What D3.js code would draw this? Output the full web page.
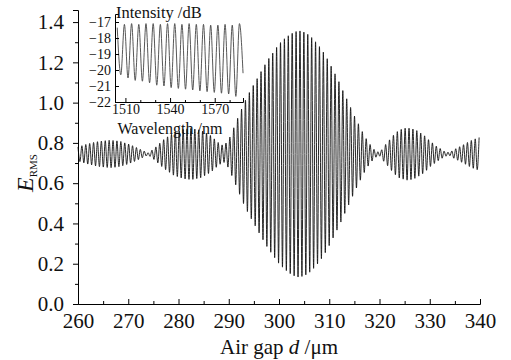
<!DOCTYPE html>
<html>
<head>
<meta charset="utf-8">
<script src="https://cdn.jsdelivr.net/npm/d3@7"></script>
<style>
  body { margin: 0; background: #fff; }
  svg { display: block; font-family: "Liberation Serif", "Times New Roman", serif; }
  svg text { font-family: "Liberation Serif", "Times New Roman", serif; }
</style>
</head>
<body>
<svg id="chart" width="511" height="360"></svg>
<script>
// main trace: E_RMS read at each extremum, extrema spaced half a fringe apart
const gapStart = 260;
const halfFringe = 0.3875;
const peaks = [
  0.780, 0.786, 0.792, 0.797, 0.802, 0.806, 0.809, 0.811, 0.813, 0.812,
  0.810, 0.807, 0.800, 0.794, 0.786, 0.777, 0.768, 0.759, 0.751, 0.764,
  0.780, 0.798, 0.816, 0.830, 0.843, 0.853, 0.860, 0.867, 0.870, 0.872,
  0.869, 0.865, 0.859, 0.848, 0.837, 0.820, 0.802, 0.790, 0.799, 0.829,
  0.875, 0.922, 0.968, 1.012, 1.050, 1.085, 1.119, 1.154, 1.188, 1.219,
  1.246, 1.274, 1.298, 1.317, 1.332, 1.344, 1.353, 1.356, 1.350, 1.339,
  1.323, 1.302, 1.278, 1.251, 1.218, 1.181, 1.143, 1.104, 1.060, 1.019,
  0.976, 0.933, 0.895, 0.856, 0.821, 0.792, 0.768, 0.756, 0.766, 0.792,
  0.815, 0.838, 0.856, 0.867, 0.873, 0.873, 0.869, 0.861, 0.849, 0.835,
  0.816, 0.800, 0.784, 0.772, 0.759, 0.754, 0.760, 0.771, 0.781, 0.791,
  0.802, 0.812, 0.820, 0.827
];
const troughs = [
  0.707, 0.701, 0.695, 0.691, 0.686, 0.682, 0.680, 0.678, 0.677, 0.679,
  0.682, 0.687, 0.693, 0.700, 0.708, 0.717, 0.726, 0.735, 0.733, 0.718,
  0.701, 0.683, 0.667, 0.654, 0.640, 0.633, 0.626, 0.621, 0.619, 0.619,
  0.623, 0.627, 0.637, 0.648, 0.661, 0.679, 0.694, 0.703, 0.680, 0.638,
  0.592, 0.545, 0.499, 0.459, 0.423, 0.388, 0.353, 0.319, 0.286, 0.257,
  0.230, 0.203, 0.183, 0.166, 0.151, 0.140, 0.134, 0.137, 0.145, 0.158,
  0.177, 0.199, 0.225, 0.255, 0.290, 0.328, 0.367, 0.407, 0.450, 0.492,
  0.535, 0.576, 0.615, 0.653, 0.685, 0.710, 0.729, 0.734, 0.709, 0.687,
  0.663, 0.642, 0.626, 0.620, 0.615, 0.618, 0.624, 0.635, 0.647, 0.664,
  0.683, 0.698, 0.712, 0.724, 0.734, 0.736, 0.724, 0.714, 0.704, 0.694,
  0.683, 0.674, 0.667
];
const xTicks = [260, 270, 280, 290, 300, 310, 320, 330, 340];
const xMinor = [265, 275, 285, 295, 305, 315, 325, 335];
const yTicks = [0, 0.2, 0.4, 0.6, 0.8, 1.0, 1.2, 1.4];
const yMinor = [0.1, 0.3, 0.5, 0.7, 0.9, 1.1, 1.3];

// inset: reflection spectrum, peaks and troughs in dB
const waveStart = 1504.5;
const waveHalf = 2.415;
const inPeaks = [-17.35, -17.15, -17.1, -17.15, -17.1, -17.1, -17.15, -17.1, -17.1,
  -17.15, -17.1, -17.15, -17.15, -17.2, -17.2, -17.15, -17.2, -17.1];
const inTroughs = [-20.3, -20.5, -20.65, -20.7, -20.8, -20.95, -21.0, -21.1, -21.15,
  -21.2, -21.25, -21.3, -21.35, -21.4, -21.45, -21.5, -21.65, -20.2];
const inXTicks = [1510, 1540, 1570];
const inXMinor = [1520, 1530, 1550, 1560, 1580];
const inYTicks = [-22, -21, -20, -19, -18, -17];

const serif = 'Liberation Serif';
const svg = d3.select('#chart');

function styleTicks(g, size) {
  g.attr('font-family', serif).attr('font-size', size);
  g.selectAll('text')
    .attr('font-family', serif)
    .attr('font-size', size)
    .attr('fill', '#111');
}

// ---- main plot ----
const x = d3.scaleLinear().domain([260, 340]).range([78, 480]);
const y = d3.scaleLinear().domain([0, 1.46]).range([304, 10]);

const mainPts = [];
peaks.forEach((v, i) => {
  mainPts.push([gapStart + 2 * i * halfFringe, v]);
  if (i < troughs.length) mainPts.push([gapStart + (2 * i + 1) * halfFringe, troughs[i]]);
});

const line = d3.line()
  .x(d => x(d[0]))
  .y(d => y(d[1]))
  .curve(d3.curveMonotoneX);

svg.append('path')
  .datum(mainPts)
  .attr('fill', 'none')
  .attr('stroke', '#111')
  .attr('stroke-width', 0.9)
  .attr('d', line);

// minor ticks first, then the labelled axes
svg.append('g')
  .attr('transform', 'translate(0,304)')
  .call(d3.axisBottom(x).tickValues(xMinor).tickSize(-3).tickFormat(''))
  .call(g => g.select('.domain').remove());
svg.append('g')
  .attr('transform', 'translate(78,0)')
  .call(d3.axisLeft(y).tickValues(yMinor).tickSize(3).tickFormat(''))
  .call(g => g.select('.domain').remove());

svg.append('g')
  .attr('transform', 'translate(0,304)')
  .call(d3.axisBottom(x).tickValues(xTicks).tickFormat(d3.format('d'))
    .tickSizeInner(-5).tickSizeOuter(-5).tickPadding(9))
  .call(g => styleTicks(g, 21));

svg.append('g')
  .attr('transform', 'translate(78,0)')
  .call(d3.axisLeft(y).tickValues(yTicks).tickFormat(d3.format('.1f'))
    .tickSizeInner(5).tickSizeOuter(5).tickPadding(9))
  .call(g => styleTicks(g, 21));

// axis titles
const xTitle = svg.append('text')
  .attr('x', 279).attr('y', 354)
  .attr('text-anchor', 'middle')
  .attr('font-size', 21)
  .attr('fill', '#111');
xTitle.append('tspan').text('Air gap ');
xTitle.append('tspan').attr('font-style', 'italic').text('d');
xTitle.append('tspan').text(' /\u03bcm');

const yTitle = svg.append('text')
  .attr('transform', 'translate(33,173) rotate(-90)')
  .attr('text-anchor', 'middle')
  .attr('fill', '#111');
yTitle.append('tspan').attr('font-style', 'italic').attr('font-size', 24).text('E');
yTitle.append('tspan').attr('font-size', 11).attr('dy', 4).text('RMS');

// ---- inset ----
const ix = d3.scaleLinear().domain([1503, 1589]).range([115, 243]);
const iy = d3.scaleLinear().domain([-22, -16.5]).range([102, 14]);

const inPts = [];
inPeaks.forEach((v, i) => {
  inPts.push([waveStart + 2 * i * waveHalf, v]);
  inPts.push([waveStart + (2 * i + 1) * waveHalf, inTroughs[i]]);
});

const inLine = d3.line()
  .x(d => ix(d[0]))
  .y(d => iy(d[1]))
  .curve(d3.curveMonotoneX);

svg.append('path')
  .datum(inPts)
  .attr('fill', 'none')
  .attr('stroke', '#444')
  .attr('stroke-width', 0.9)
  .attr('d', inLine);

svg.append('g')
  .attr('transform', 'translate(0,102)')
  .call(d3.axisBottom(ix).tickValues(inXMinor).tickSize(-2).tickFormat(''))
  .call(g => g.select('.domain').remove());

svg.append('g')
  .attr('transform', 'translate(0,102)')
  .call(d3.axisBottom(ix).tickValues(inXTicks).tickFormat(d3.format('d'))
    .tickSizeInner(-4).tickSizeOuter(-4).tickPadding(2))
  .call(g => styleTicks(g, 14));

svg.append('g')
  .attr('transform', 'translate(115,0)')
  .call(d3.axisLeft(iy).tickValues(inYTicks).tickFormat(d3.format('d'))
    .tickSizeInner(-4).tickSizeOuter(-4).tickPadding(4))
  .call(g => styleTicks(g, 14));

svg.append('text')
  .attr('x', 116).attr('y', 18)
  .attr('font-size', 16.5)
  .attr('fill', '#111')
  .text('Intensity /dB');

svg.append('text')
  .attr('x', 170).attr('y', 134)
  .attr('text-anchor', 'middle')
  .attr('font-size', 16)
  .attr('fill', '#111')
  .text('Wavelength /nm');
</script>
</body>
</html>
